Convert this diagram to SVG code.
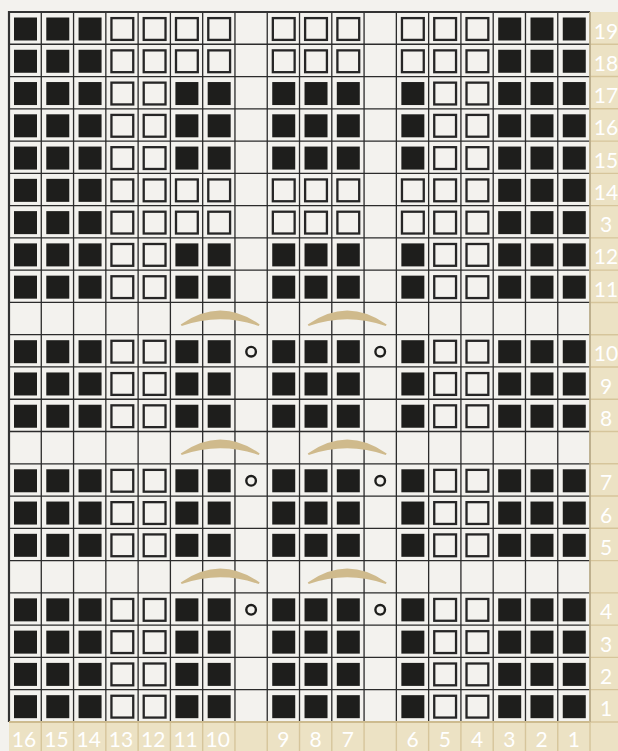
<svg xmlns="http://www.w3.org/2000/svg" width="618" height="751" viewBox="0 0 618 751">
<style>
.k{fill:#1e1e1c}
.o{fill:none;stroke:#262626;stroke-width:2.3}
.yo{fill:none;stroke:#1e1e1c;stroke-width:2.4}
.arc{fill:#cfba8c}
.gl{stroke:#2b2b2b;stroke-width:1.3;fill:none}
.tl{stroke:#d6c59b;stroke-width:1.4;fill:none}
.num{font-family:Lato,"Open Sans","Liberation Sans",sans-serif;font-size:21px;fill:#ffffff;text-anchor:middle}
</style>
<defs>
<rect id="K" class="k" x="5" y="5.5" width="23" height="23"/>
<rect id="O" class="o" x="5.6" y="6.1" width="21.8" height="21.8"/>
<path id="arc" class="arc" d="M0,22 Q39.5,-6 79,22 L78,23.5 Q39.5,10 1,23.5 Z"/>
<g id="rowA">
<use href="#K" x="9"/><use href="#K" x="41.28"/><use href="#K" x="73.56"/>
<use href="#O" x="105.84"/><use href="#O" x="138.12"/><use href="#O" x="170.4"/><use href="#O" x="202.68"/>
<use href="#O" x="267.24"/><use href="#O" x="299.52"/><use href="#O" x="331.8"/>
<use href="#O" x="396.36"/><use href="#O" x="428.64"/><use href="#O" x="460.92"/>
<use href="#K" x="493.2"/><use href="#K" x="525.48"/><use href="#K" x="557.76"/>
</g>
<g id="rowB">
<use href="#K" x="9"/><use href="#K" x="41.28"/><use href="#K" x="73.56"/>
<use href="#O" x="105.84"/><use href="#O" x="138.12"/><use href="#K" x="170.4"/><use href="#K" x="202.68"/>
<use href="#K" x="267.24"/><use href="#K" x="299.52"/><use href="#K" x="331.8"/>
<use href="#K" x="396.36"/><use href="#O" x="428.64"/><use href="#O" x="460.92"/>
<use href="#K" x="493.2"/><use href="#K" x="525.48"/><use href="#K" x="557.76"/>
</g>
<g id="rowC">
<use href="#rowB"/>
<circle class="yo" cx="251.1" cy="17" r="4.8"/>
<circle class="yo" cx="380.2" cy="17" r="4.8"/>
</g>
<g id="cable">
<use href="#arc" x="180.7"/>
<use href="#arc" x="307.7"/>
</g>
</defs>

<rect width="618" height="751" fill="#f3f2ee"/>
<g id="label-strips">
<rect x="590" y="12" width="28" height="739" fill="#ece2c4"/>
<rect x="9" y="722" width="609" height="29" fill="#ece2c4"/>
<path class="tl" d="M590,44.27H618M590,76.54H618M590,108.81H618M590,141.08H618M590,173.35H618M590,205.62H618M590,237.89H618M590,270.16H618M590,302.43H618M590,334.7H618M590,366.97H618M590,399.24H618M590,431.51H618M590,463.78H618M590,496.05H618M590,528.32H618M590,560.59H618M590,592.86H618M590,625.13H618M590,657.4H618M590,689.67H618M590,721.94H618"/>
<path class="tl" d="M41.28,722V751M73.56,722V751M105.84,722V751M138.12,722V751M170.4,722V751M202.68,722V751M234.96,722V751M267.24,722V751M299.52,722V751M331.8,722V751M364.08,722V751M396.36,722V751M428.64,722V751M460.92,722V751M493.2,722V751M525.48,722V751M557.76,722V751M590.04,722V751"/>
</g>

<g id="grid">
<path class="gl" d="M41.28,12V722M73.56,12V722M105.84,12V722M138.12,12V722M170.4,12V722M202.68,12V722M234.96,12V722M267.24,12V722M299.52,12V722M331.8,12V722M364.08,12V722M396.36,12V722M428.64,12V722M460.92,12V722M493.2,12V722M525.48,12V722M557.76,12V722"/>
<path class="gl" d="M9,44.27H590M9,76.54H590M9,108.81H590M9,141.08H590M9,173.35H590M9,205.62H590M9,237.89H590M9,270.16H590M9,302.43H590M9,334.7H590M9,366.97H590M9,399.24H590M9,431.51H590M9,463.78H590M9,496.05H590M9,528.32H590M9,560.59H590M9,592.86H590M9,625.13H590M9,657.4H590M9,689.67H590"/>
<path d="M9,722V12H590" fill="none" stroke="#333" stroke-width="2.2"/>
<path d="M590,12V722" fill="none" stroke="#b9ab88" stroke-width="1.8"/>
<path d="M9,722H590" fill="none" stroke="#cdbb8f" stroke-width="1.8"/>
</g>

<g id="chart-rows">
<use id="row19" href="#rowA" y="12"/>
<use id="row18" href="#rowA" y="44.27"/>
<use id="row17" href="#rowB" y="76.54"/>
<use id="row16" href="#rowB" y="108.81"/>
<use id="row15" href="#rowB" y="141.08"/>
<use id="row14" href="#rowA" y="173.35"/>
<use id="row13" href="#rowA" y="205.62"/>
<use id="row12" href="#rowB" y="237.89"/>
<use id="row11" href="#rowB" y="270.16"/>
<use id="cable1" href="#cable" y="302.43"/>
<use id="row10" href="#rowC" y="334.7"/>
<use id="row9" href="#rowB" y="366.97"/>
<use id="row8" href="#rowB" y="399.24"/>
<use id="cable2" href="#cable" y="431.51"/>
<use id="row7" href="#rowC" y="463.78"/>
<use id="row6" href="#rowB" y="496.05"/>
<use id="row5" href="#rowB" y="528.32"/>
<use id="cable3" href="#cable" y="560.59"/>
<use id="row4" href="#rowC" y="592.86"/>
<use id="row3" href="#rowB" y="625.13"/>
<use id="row2" href="#rowB" y="657.4"/>
<use id="row1" href="#rowB" y="689.67"/>
</g>

<g id="row-numbers" class="num">
<text x="606" y="38.5">19</text>
<text x="606" y="70.8">18</text>
<text x="606" y="103">17</text>
<text x="606" y="135.3">16</text>
<text x="606" y="167.6">15</text>
<text x="606" y="199.9">14</text>
<text x="606" y="232.1">3</text>
<text x="606" y="264.4">12</text>
<text x="606" y="296.7">11</text>
<text x="606" y="361.2">10</text>
<text x="606" y="393.5">9</text>
<text x="606" y="425.7">8</text>
<text x="606" y="490.3">7</text>
<text x="606" y="522.6">6</text>
<text x="606" y="554.8">5</text>
<text x="606" y="619.4">4</text>
<text x="606" y="651.6">3</text>
<text x="606" y="683.9">2</text>
<text x="606" y="716.2">1</text>
</g>
<g id="col-numbers" class="num">
<text x="24" y="746.7">16</text>
<text x="56.5" y="746.7">15</text>
<text x="88.7" y="746.7">14</text>
<text x="121" y="746.7">13</text>
<text x="153.3" y="746.7">12</text>
<text x="185.6" y="746.7">11</text>
<text x="217.8" y="746.7">10</text>
<text x="283.4" y="746.7">9</text>
<text x="315.7" y="746.7">8</text>
<text x="347.9" y="746.7">7</text>
<text x="412.5" y="746.7">6</text>
<text x="444.8" y="746.7">5</text>
<text x="477.1" y="746.7">4</text>
<text x="509.3" y="746.7">3</text>
<text x="541.6" y="746.7">2</text>
<text x="573.9" y="746.7">1</text>
</g>
</svg>
